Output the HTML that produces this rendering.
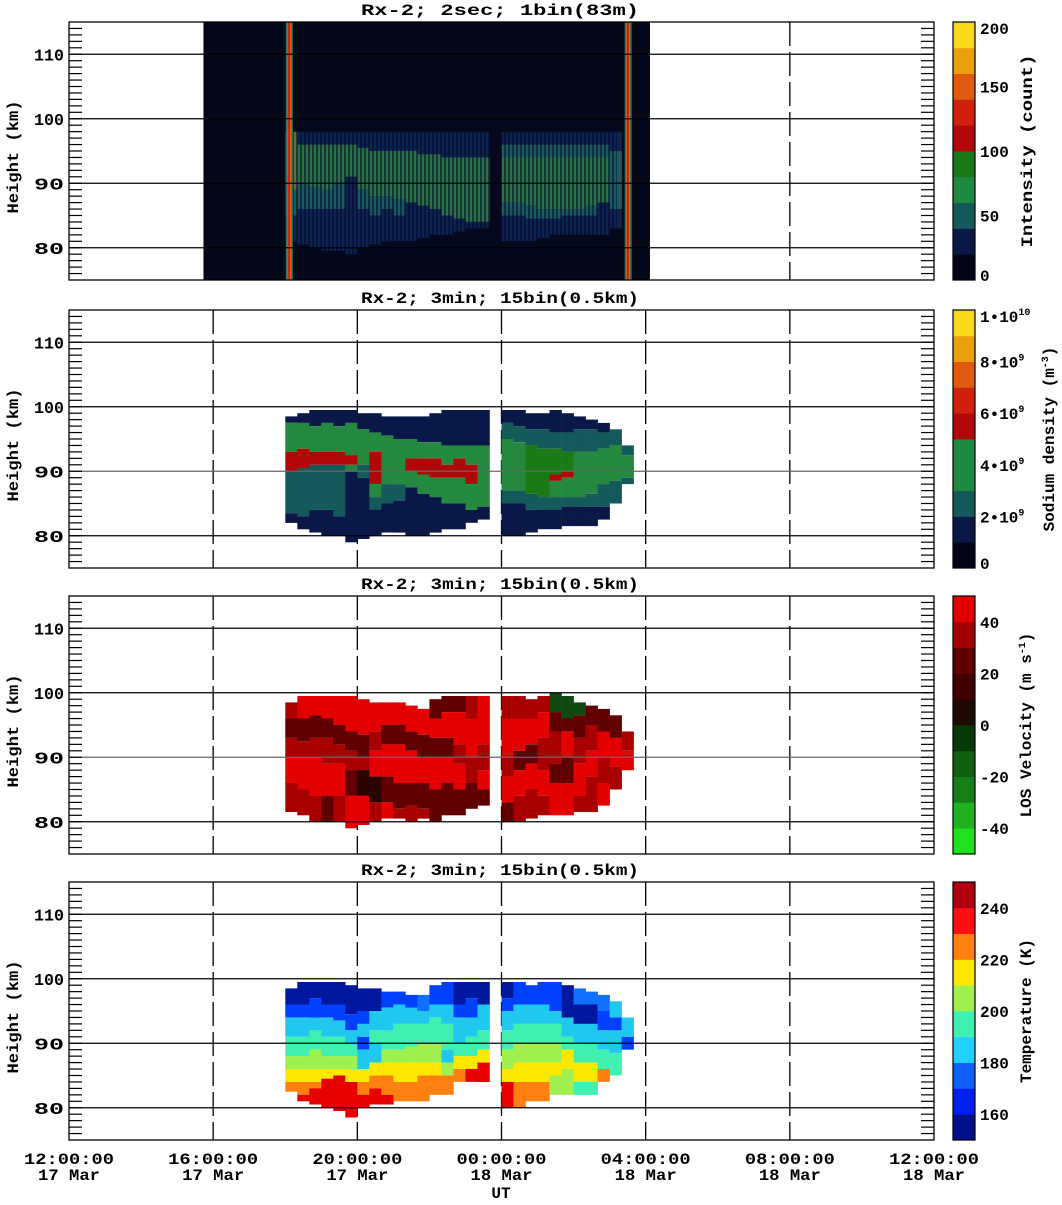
<!DOCTYPE html>
<html><head><meta charset="utf-8"><style>
html,body{margin:0;padding:0;background:#fff;}
svg text{font-family:"Liberation Mono",monospace;font-weight:bold;fill:#000;}
</style></head><body>
<svg id="chart" width="1062" height="1200" xmlns="http://www.w3.org/2000/svg"></svg>
<script>
// ---- data ----
const xTickLabels = ["12:00:00","16:00:00","20:00:00","00:00:00","04:00:00","08:00:00","12:00:00"];
const xDateLabels = ["17 Mar","17 Mar","17 Mar","18 Mar","18 Mar","18 Mar","18 Mar"];
const xTickHours = [0,4,8,12,16,20,24];
const yTicks = [80,90,100,110];
const panelTitles = ["Rx-2;  2sec;  1bin(83m)","Rx-2;  3min;  15bin(0.5km)","Rx-2;  3min;  15bin(0.5km)","Rx-2;  3min;  15bin(0.5km)"];
// column start times (hours after 12:00 UT, 20-minute bins)
const colHours = [6,6.333,6.667,7,7.333,7.667,8,8.333,8.667,9,9.333,9.667,10,10.333,10.667,11,11.333,11.667,12,12.333,12.667,13,13.333,13.667,14,14.333,14.667,15,15.333];
const colWidthHours = 0.3333;
// panel 1 raw intensity: [top, code, lowerBound, code, lowerBound ...]
const intensityCols = [
[98,'o',89,'t',85,'b',81],
[98,'b',96,'g',90,'t',86,'b',80.5],
[98,'b',96,'g',89.5,'t',86,'b',80],
[98,'b',96,'g',89,'t',86,'b',79.5],
[98,'b',96,'g',90,'t',86,'b',79.5],
[98,'b',96,'g',91,'b',79],
[98,'b',95.5,'g',89,'t',86,'b',80],
[98,'b',95,'g',88,'t',85,'b',80.5],
[98,'b',95,'g',88,'t',86,'b',81],
[98,'b',95,'g',87.5,'t',85,'b',81],
[98,'b',95,'g',87,'b',81],
[98,'b',94.5,'g',86.5,'b',81.5],
[98,'b',94.5,'g',86,'b',82],
[98,'b',94,'g',85,'b',82],
[98,'b',94,'g',84.5,'b',82.5],
[98,'b',94,'g',84,'b',83],
[98,'b',94,'g',84,'b',83],
null,
[98,'b',96,'t',94,'g',87,'t',85,'b',81],
[98,'b',96,'t',94,'g',87,'t',85,'b',81],
[98,'b',96,'t',94,'g',86.5,'t',84.5,'b',81],
[98,'b',96,'t',94,'g',86,'t',84.5,'b',81.5],
[98,'b',96,'t',94,'g',86,'t',84.5,'b',82],
[98,'b',96,'t',94,'g',86,'t',85,'b',82],
[98,'b',96,'t',94,'g',86,'t',85,'b',82],
[98,'b',96,'t',94,'g',86.5,'t',85,'b',82],
[98,'b',96,'t',94,'g',87,'b',82],
[98,'b',95,'t',86,'b',83],
null
];
const intensityDarkSpan = [3.73, 16.12];
const intensityEdgeLines = [6.1, 15.5];
const densityCols = [
[98.5,'1',97.5,'3',93,'5',90,'2',83.5,'1',82],
[99,'1',97.5,'3',93.5,'5',90.5,'2',83,'1',81],
[99.5,'1',97,'3',93,'5',91,'2',84,'1',80.5],
[99.5,'1',97.5,'3',93,'5',91,'2',84,'1',80],
[99.5,'1',97,'3',93,'5',91,'2',83,'1',80],
[99.5,'1',97.5,'3',92.5,'5',91,'3',90,'1',79],
[99,'1',96.5,'3',91,'2',89,'1',79.5],
[99,'1',96,'3',93,'5',88,'3',86,'2',84,'1',80],
[98.5,'1',95.5,'3',88,'2',85,'1',80.5],
[98.5,'1',95,'3',88,'2',85.5,'1',80.5],
[98.5,'1',95,'3',92,'5',90,'3',87.5,'1',80],
[98.5,'1',94.5,'3',92,'5',89.5,'3',86.5,'1',80],
[99,'1',94.5,'3',92,'5',89,'3',86,'1',80.5],
[99.5,'1',94,'3',91,'5',89,'3',85,'1',81],
[99.5,'1',94,'3',92,'5',89,'3',85,'1',81],
[99.5,'1',94,'3',91,'5',88,'3',84,'1',82],
[99.5,'1',94,'3',84.5,'1',82.5],
null,
[99.5,'1',97.5,'2',95,'3',87,'2',85,'1',80],
[99.5,'1',97,'2',94.5,'3',87,'2',85,'1',80],
[99,'1',96.5,'2',94,'4',86.5,'2',84,'1',80.5],
[99,'1',96.5,'2',93.5,'4',86,'2',84,'1',81],
[99.5,'1',96,'2',93.5,'4',89.5,'5',88.5,'3',86,'2',84,'1',81],
[99,'1',96,'2',93,'4',90,'5',89,'3',86,'2',84.5,'1',81.5],
[98.5,'1',96.5,'2',93,'3',86,'2',84.5,'1',81.5],
[98,'1',96.5,'2',93,'3',86.5,'2',84.5,'1',81.5],
[97.5,'1',96,'2',93.5,'3',88,'2',84.5,'1',82.5],
[96.5,'2',94,'3',88.5,'2',85],
[94,'2',92.5,'3',89,'2',88]
];
const velocityCols = [
[98.5,'r',96,'d',93,'r',90,'R',86,'r',81.5],
[99.5,'R',96,'d',92.5,'r',90,'R',85,'r',81],
[99.5,'R',96.5,'d',93,'r',90,'R',84,'r',80],
[99.5,'R',96,'d',93,'r',89,'R',84,'d',80],
[99.5,'R',95,'d',92,'r',89,'R',84,'r',80],
[99.5,'R',94,'d',91,'r',88,'d',84,'R',79],
[99,'R',93.5,'d',90,'r',88,'k',84,'R',79.5],
[98.5,'R',94,'r',91,'R',87,'k',83,'r',80],
[98.5,'R',95,'d',92,'R',87,'d',83,'R',80.5],
[98.5,'R',95,'d',92,'R',86,'d',82,'r',80.5],
[98,'R',94,'d',91,'R',86,'d',82.5,'r',80],
[97.5,'R',93.5,'d',90,'R',86,'d',82,'r',80.5],
[99,'d',96,'R',93,'d',90,'R',85,'d',80],
[99.5,'d',97,'R',93,'d',90,'R',86,'d',81],
[99.5,'d',97,'R',92,'r',89,'R',85,'d',81],
[99.5,'r',96,'R',90,'r',86,'d',82],
[99.5,'R',92,'r',88,'R',85,'d',82.5],
null,
[99.5,'r',96,'R',90,'r',87,'R',83,'d',80],
[99.5,'r',96,'R',91,'d',88,'R',84,'r',80],
[99,'r',96,'R',92,'d',89,'R',85,'r',80.5],
[99.5,'r',97,'R',93,'r',88,'R',84,'r',81],
[100,'g',97,'d',94,'r',89,'d',86,'R',81],
[99.5,'g',96,'d',94,'R',90,'d',86,'R',81],
[98.5,'g',96.5,'d',93,'r',89,'R',84,'r',81.5],
[98,'d',95,'r',91,'R',87,'r',81.5],
[97.5,'d',94,'R',90,'r',86,'R',82.5],
[96.5,'d',93,'R',88.5,'r',85],
[94,'r',91,'R',88]
];
const temperatureCols = [
[98.5,'N',96,'B',94,'c',91,'t',88,'l',86,'y',84,'o',82.5],
[99.5,'N',96,'B',94,'c',91,'t',88,'l',86,'y',84,'o',82,'R',81],
[99.5,'N',97,'B',94,'c',92,'t',89,'l',86,'y',84,'o',83,'R',80.5],
[99.5,'N',96,'B',94,'c',91,'t',88,'l',86,'y',84.5,'R',80],
[99.5,'N',96,'B',93.5,'c',91,'t',88,'l',86,'y',85,'R',79.5],
[99,'N',94.5,'B',92,'c',90,'t',88,'l',86,'y',84,'R',78.5],
[98.5,'N',95,'B',93,'c',91,'B',89,'c',86,'y',84,'o',82,'R',80],
[98.5,'N',95,'c',92,'t',90,'c',87,'y',85,'o',83,'R',80.5],
[98,'B',95.5,'c',92,'t',89,'l',87,'y',85,'o',82,'R',80.5],
[98,'B',96,'c',93,'t',89,'l',87,'y',84,'o',81],
[97.5,'B',95.5,'c',93,'t',89.5,'l',87,'y',84,'o',81],
[97.5,'b',95,'c',93,'t',90,'l',87,'y',85,'o',81],
[99,'B',96,'c',94,'t',90,'l',87,'y',85,'o',82],
[99.5,'B',96,'c',93,'t',89,'c',87,'l',85,'o',82],
[99.5,'N',96,'B',94,'c',90,'t',88,'y',86,'o',84],
[99.5,'N',97,'B',94,'c',91,'t',88,'y',86,'R',84],
[99.5,'N',96,'c',92,'t',89,'y',87,'R',84],
null,
[99.5,'N',97,'B',95,'c',92,'t',89,'l',86,'y',84,'R',80],
[99.5,'B',96,'c',93,'t',90,'l',87,'y',84,'o',80],
[99,'B',96,'c',93,'t',90,'l',87,'y',84,'o',81],
[99.5,'B',96,'c',93,'t',90,'l',87,'y',84,'o',81],
[99.5,'B',95,'c',93,'t',90,'l',87,'y',85,'l',82],
[99,'N',94,'c',91,'t',89,'y',86,'l',82],
[98.5,'b',96,'N',93,'c',90,'t',87,'y',84,'t',82],
[98,'b',96,'N',93,'c',90,'t',87,'y',84,'t',82],
[97.5,'b',95,'B',92,'c',89,'t',86,'o',84],
[96.5,'c',94,'B',92,'c',88.5,'t',85],
[94,'c',91,'B',89]
];
const intensityColors = {o:'#6a6a34',t:'#185a60',g:'#2a7048',b:'#0c2250'};
const densityColors = {'0':'#05051a','1':'#0a1848','2':'#145a5a','3':'#24883e','4':'#1a7a18','5':'#b00808'};
const velocityColors = {R:'#e20000',r:'#a80000',d:'#600000',k:'#2a0400',g:'#104a10'};
const temperatureColors = {N:'#0018a0',B:'#0040ff',b:'#1070ff',c:'#20c8f0',t:'#40f0b0',l:'#a0f050',y:'#ffe800',o:'#ff8010',R:'#e80000'};
const cbIntensityColors = ['#050518','#0a1848','#145a5a','#1e8a40','#1a7a18','#b00808','#d02010','#e05a10','#e8a010','#f8d818'];
const cbIntensityTicks = [0,50,100,150,200];
const cbDensityColors = ['#050518','#0a1848','#145a5a','#1e8a40','#1e8a40','#b00808','#d02010','#e05a10','#e8a010','#f8d818'];
const cbDensityTicks = [0,2,4,6,8,10];
const cbVelocityColors = ['#20e020','#20b020','#188018','#106010','#083a08','#1e0a00','#400000','#600000','#a00000','#e00000'];
const cbVelocityTicks = [-40,-20,0,20,40];
const cbTemperatureColors = ['#00108a','#0020f0','#1060ff','#20d0ff','#40f0b0','#a0f050','#ffe800','#ff8010','#ff1010','#b00010'];
const cbTemperatureTicks = [160,180,200,220,240];

// ---- layout ----
const NS='http://www.w3.org/2000/svg';
const svg=document.getElementById('chart');
const PX0=69, PX1=934, PH=258;
const panelTops=[22,310,596,882];
const CBX=953, CBW=22;
function xs(h){return PX0+h*(PX1-PX0)/24;}
function ys(top,km){return top+(115-km)*PH/40;}
function mk(tag,attrs,parent){const e=document.createElementNS(NS,tag);for(const k in attrs)e.setAttribute(k,attrs[k]);(parent||svg).appendChild(e);return e;}

function drawCols(g,top,cols,colors){
  cols.forEach((col,i)=>{
    if(!col) return;
    const x0=xs(colHours[i]), x1=xs(colHours[i]+colWidthHours);
    let hTop=col[0];
    for(let k=1;k<col.length;k+=2){
      const code=col[k], hBot=col[k+1];
      const r=mk('rect',{x:x0.toFixed(1),y:ys(top,hTop).toFixed(1),width:(x1-x0+0.3).toFixed(1),height:(ys(top,hBot)-ys(top,hTop)).toFixed(1),fill:colors[code]},g);
      
      
      hTop=hBot;
    }
  });
}

panelTops.forEach((top,p)=>{
  const g=mk('g',{});
  
  
  for(let i=1;i<6;i++){
    const l=mk('line',{x1:xs(xTickHours[i]),x2:xs(xTickHours[i]),y1:top,y2:top+PH,stroke:'#000','stroke-width':1.3,'stroke-dasharray':'24,6'},g);
    
    
  }
  const dg=mk('g',{},g);
  
  
  if(p===0){
    mk('rect',{x:xs(intensityDarkSpan[0]),y:top,width:xs(intensityDarkSpan[1])-xs(intensityDarkSpan[0]),height:PH,fill:'#040818'},dg);
    drawCols(dg,top,intensityCols,intensityColors);
    const defs=mk('defs',{},svg);
    const pat=mk('pattern',{id:'stripes',width:4,height:10,patternUnits:'userSpaceOnUse'},defs);
    mk('rect',{x:0,y:0,width:2,height:10,fill:'rgba(4,10,40,0.55)'},pat);
    mk('rect',{x:xs(colHours[0]),y:ys(top,99),width:xs(15.2)-xs(colHours[0]),height:ys(top,79)-ys(top,99),fill:'url(#stripes)'},dg);
    intensityEdgeLines.forEach(h=>{
      const x=xs(h);
      mk('rect',{x:x-3,y:top,width:7,height:PH,fill:'#1a7a60'},dg);
      mk('rect',{x:x-1.5,y:top,width:4,height:PH,fill:'#e0601a'},dg);
      const c=mk('rect',{x:x-0.5,y:top,width:1.5,height:PH,fill:'#c01010'},dg);
      
      
    });
  } else if(p===1){ drawCols(dg,top,densityCols,densityColors); }
  else if(p===2){ drawCols(dg,top,velocityCols,velocityColors); }
  else { drawCols(dg,top,temperatureCols,temperatureColors); }
  yTicks.forEach(v=>{
    const l=mk('line',{x1:PX0,x2:PX1,y1:ys(top,v),y2:ys(top,v),stroke:(v===90&&(p===1||p===2))?'#666':'#000','stroke-width':1.3},g);
    
    
    const t=mk('text',{x:64,y:ys(top,v)+6,'text-anchor':'end','font-size':17,textLength:30,lengthAdjust:'spacingAndGlyphs'},g);
    t.textContent=v;
    
    
  });
  for(let km=76;km<115;km++){
    mk('line',{x1:PX0,x2:PX0+13,y1:ys(top,km),y2:ys(top,km),stroke:'#000','stroke-width':1.2},g);
    mk('line',{x1:PX1-13,x2:PX1,y1:ys(top,km),y2:ys(top,km),stroke:'#000','stroke-width':1.2},g);
  }
  const fr=mk('rect',{x:PX0,y:top,width:PX1-PX0,height:PH,fill:'none',stroke:'#000','stroke-width':1.3},g);
  
  
  const tt=mk('text',{x:500,y:top-7,'text-anchor':'middle','font-size':16,textLength:278,lengthAdjust:'spacingAndGlyphs'},g);
  tt.textContent=panelTitles[p];
  
  
  const yl=mk('text',{x:0,y:0,'text-anchor':'middle','font-size':16,textLength:113,lengthAdjust:'spacingAndGlyphs',transform:'translate(18,'+(top+135)+') rotate(-90)'},g);
  yl.textContent='Height (km)';
  
  
});

function colorbar(top,colors,ticks,vmin,vmax,fmt,title,titleX,name){
  const g=mk('g',{});
  
  
  const n=colors.length, sh=PH/n;
  colors.forEach((c,i)=>{
    const r=mk('rect',{x:CBX,y:(top+PH-(i+1)*sh).toFixed(2),width:CBW,height:(sh+0.4).toFixed(2),fill:c},g);
    
    
  });
  mk('rect',{x:CBX,y:top,width:CBW,height:PH,fill:'none',stroke:'#000','stroke-width':1.2},g);
  ticks.forEach(v=>{
    const y=top+PH-(v-vmin)/(vmax-vmin)*PH;
    const t=mk('text',{x:980,y:Math.min(Math.max(y+6,top+12),top+PH+1),'font-size':16},g);
    fmt(t,v);
    
    
  });
  const tl=mk('text',{x:0,y:0,'text-anchor':'middle','font-size':16,transform:'translate('+titleX+','+(top+PH/2)+') rotate(-90)'},g);
  title(tl);
  
  
}
const plain=(t,v)=>{t.textContent=v;};
colorbar(panelTops[0],cbIntensityColors,cbIntensityTicks,0,200,plain,t=>{t.textContent='Intensity  (count)';t.setAttribute('textLength',193);t.setAttribute('lengthAdjust','spacingAndGlyphs');},1032,'intensity-colorbar');
colorbar(panelTops[1],cbDensityColors,cbDensityTicks,0,10,(t,v)=>{
  if(v===0){t.textContent='0';return;}
  if(v===10){t.textContent='1\u202210';}else{t.textContent=v+'\u202210';}
  const s=mk('tspan',{dy:-7,'font-size':10},t);s.textContent=(v===10?'10':'9');
},t=>{t.textContent='Sodium density (m';const s=mk('tspan',{dy:-6,'font-size':10},t);s.textContent='-3';const e=mk('tspan',{dy:6},t);e.textContent=')';},1054,'density-colorbar');
colorbar(panelTops[2],cbVelocityColors,cbVelocityTicks,-50,50,plain,t=>{t.textContent='LOS Velocity (m s';const s=mk('tspan',{dy:-6,'font-size':10},t);s.textContent='-1';const e=mk('tspan',{dy:6},t);e.textContent=')';},1031,'velocity-colorbar');
colorbar(panelTops[3],cbTemperatureColors,cbTemperatureTicks,150,250,plain,t=>{t.textContent='Temperature (K)';},1031,'temperature-colorbar');

xTickHours.forEach((h,i)=>{
  const t=mk('text',{x:xs(h),y:1164,'text-anchor':'middle','font-size':16,textLength:90,lengthAdjust:'spacingAndGlyphs'});
  t.textContent=xTickLabels[i];
  
  
  const d=mk('text',{x:xs(h),y:1180,'text-anchor':'middle','font-size':16,textLength:62,lengthAdjust:'spacingAndGlyphs'});
  d.textContent=xDateLabels[i];
  
  
});
const ut=mk('text',{x:501,y:1198,'text-anchor':'middle','font-size':16});
ut.textContent='UT';


</script>
</body></html>
